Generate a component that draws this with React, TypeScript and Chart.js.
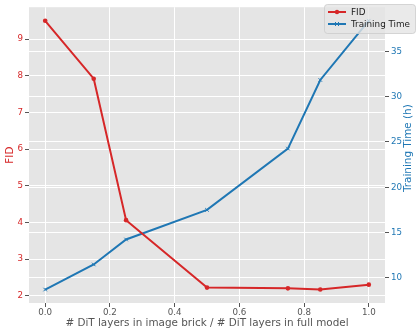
import React, { useEffect, useRef } from "react";
import { Chart, registerables } from "chart.js";

Chart.register(...registerables);

const xValues = [0, 0.15, 0.25, 0.5, 0.75, 0.85, 1.0];
const fidValues = [9.5, 7.92, 4.06, 2.22, 2.2, 2.17, 2.3];
const timeValues = [8.7, 11.47, 14.23, 17.5, 24.27, 31.85, 38.4];
const xTicks = [0, 0.2, 0.4, 0.6, 0.8, 1.0];
const fidTicks = [2, 3, 4, 5, 6, 7, 8, 9];
const timeTicks = [10, 15, 20, 25, 30, 35];

const xTitle = "# DiT layers in image brick / # DiT layers in full model";
const fidTitle = "FID";
const timeTitle = "Training Time (h)";
const fidLabel = "FID";
const timeLabel = "Training Time";

const RED = "#d62728";
const BLUE = "#1f77b4";
const FONT = "DejaVu Sans";
const TICK_SIZE = 8.7;

const decorPlugin = {
  id: "decor",
  beforeDraw(chart: any) {
    const { ctx, chartArea: a } = chart;
    ctx.save();
    ctx.fillStyle = "#E5E5E5";
    ctx.fillRect(a.left, a.top, a.right - a.left, a.bottom - a.top);
    ctx.restore();
  },
  afterDraw(chart: any) {
    const { ctx, chartArea: a } = chart;
    const cy = (a.top + a.bottom) / 2;
    ctx.save();
    ctx.font = `10.4px "${FONT}"`;
    ctx.textAlign = "center";
    ctx.textBaseline = "middle";
    // x title
    ctx.fillStyle = "#555555";
    ctx.fillText(xTitle, (a.left + a.right) / 2, 323);
    // left title
    ctx.save();
    ctx.translate(10, cy);
    ctx.rotate(-Math.PI / 2);
    ctx.fillStyle = RED;
    ctx.fillText(fidTitle, 0, 0);
    ctx.restore();
    // right title
    ctx.save();
    ctx.translate(408.5, cy - 7);
    ctx.rotate(-Math.PI / 2);
    ctx.fillStyle = BLUE;
    ctx.fillText(timeTitle, 0, 0);
    ctx.restore();

    // legend
    const lx = 324, ly = 4, lw = 91, lh = 29;
    ctx.beginPath();
    ctx.roundRect(lx + 0.5, ly + 0.5, lw, lh, 3);
    ctx.fillStyle = "rgba(229,229,229,0.8)";
    ctx.fill();
    ctx.strokeStyle = "rgba(204,204,204,0.8)";
    ctx.lineWidth = 1;
    ctx.stroke();

    ctx.font = `8.8px "${FONT}"`;
    const rows = [
      { y: 12, color: RED, label: fidLabel, marker: "dot" },
      { y: 24, color: BLUE, label: timeLabel, marker: "x" },
    ];
    rows.forEach((r) => {
      ctx.strokeStyle = r.color;
      ctx.lineWidth = 2;
      ctx.beginPath();
      ctx.moveTo(328, r.y);
      ctx.lineTo(346, r.y);
      ctx.stroke();
      if (r.marker === "dot") {
        ctx.fillStyle = r.color;
        ctx.beginPath();
        ctx.arc(337, r.y, 2.2, 0, Math.PI * 2);
        ctx.fill();
      } else {
        ctx.lineWidth = 1;
        ctx.beginPath();
        ctx.moveTo(335, r.y - 2);
        ctx.lineTo(339, r.y + 2);
        ctx.moveTo(339, r.y - 2);
        ctx.lineTo(335, r.y + 2);
        ctx.stroke();
      }
      ctx.fillStyle = "#222222";
      ctx.textAlign = "left";
      ctx.fillText(r.label, 351, r.y + 0.5);
    });
    ctx.restore();
  },
};

export default function App() {
  const ref = useRef<HTMLCanvasElement | null>(null);
  useEffect(() => {
    if (!ref.current) return;
    const chart = new Chart(ref.current, {
      type: "line",
      data: {
        datasets: [
          {
            label: fidLabel,
            data: xValues.map((x, i) => ({ x, y: fidValues[i] })),
            yAxisID: "y",
            borderColor: RED,
            backgroundColor: RED,
            borderWidth: 2,
            pointStyle: "circle",
            pointRadius: 2.3,
            pointBorderWidth: 0,
            tension: 0,
          },
          {
            label: timeLabel,
            data: xValues.map((x, i) => ({ x, y: timeValues[i] })),
            yAxisID: "y1",
            borderColor: BLUE,
            backgroundColor: BLUE,
            borderWidth: 2,
            pointStyle: "crossRot",
            pointRadius: 2.5,
            pointBorderWidth: 1,
            tension: 0,
          },
        ],
      },
      options: {
        responsive: false,
        devicePixelRatio: 1,
        animation: false,
        layout: { padding: { top: 7, left: 0, right: 0, bottom: 0 } },
        plugins: { legend: { display: false }, tooltip: { enabled: false } },
        scales: {
          x: {
            type: "linear",
            min: -0.05,
            max: 1.05,
            afterBuildTicks: (s: any) => {
              s.ticks = xTicks.map((v) => ({ value: v }));
            },
            afterFit: (s: any) => {
              s.height = 32;
            },
            ticks: {
              color: "#555555",
              font: { family: FONT, size: TICK_SIZE },
              padding: 1,
              maxRotation: 0,
              callback: (v: any) => Number(v).toFixed(1),
            },
            grid: { color: "#ffffff", lineWidth: 1, tickColor: "#555555", tickLength: 4 },
            border: { display: false },
          },
          y: {
            type: "linear",
            position: "left",
            min: 1.8,
            max: 9.87,
            afterBuildTicks: (s: any) => {
              s.ticks = fidTicks.map((v) => ({ value: v }));
            },
            afterFit: (s: any) => {
              s.width = 29;
            },
            ticks: {
              color: RED,
              font: { family: FONT, size: TICK_SIZE },
              padding: 2,
            },
            grid: { color: "#ffffff", lineWidth: 1, tickColor: "#555555", tickLength: 4 },
            border: { display: false },
          },
          y1: {
            type: "linear",
            position: "right",
            min: 7.215,
            max: 39.885,
            afterBuildTicks: (s: any) => {
              s.ticks = timeTicks.map((v) => ({ value: v }));
            },
            afterFit: (s: any) => {
              s.width = 34;
            },
            ticks: {
              color: BLUE,
              font: { family: FONT, size: TICK_SIZE },
              padding: 2,
            },
            grid: { color: "#ffffff", lineWidth: 1, tickColor: "#555555", tickLength: 4 },
            border: { display: false },
          },
        },
      },
      plugins: [decorPlugin],
    } as any);
    return () => chart.destroy();
  }, []);
  return (
    <div style={{ position: "fixed", left: 0, top: 0, width: 419, height: 335, background: "#fff" }}>
      <canvas ref={ref} width={419} height={335} style={{ width: 419, height: 335, display: "block" }} />
    </div>
  );
}
